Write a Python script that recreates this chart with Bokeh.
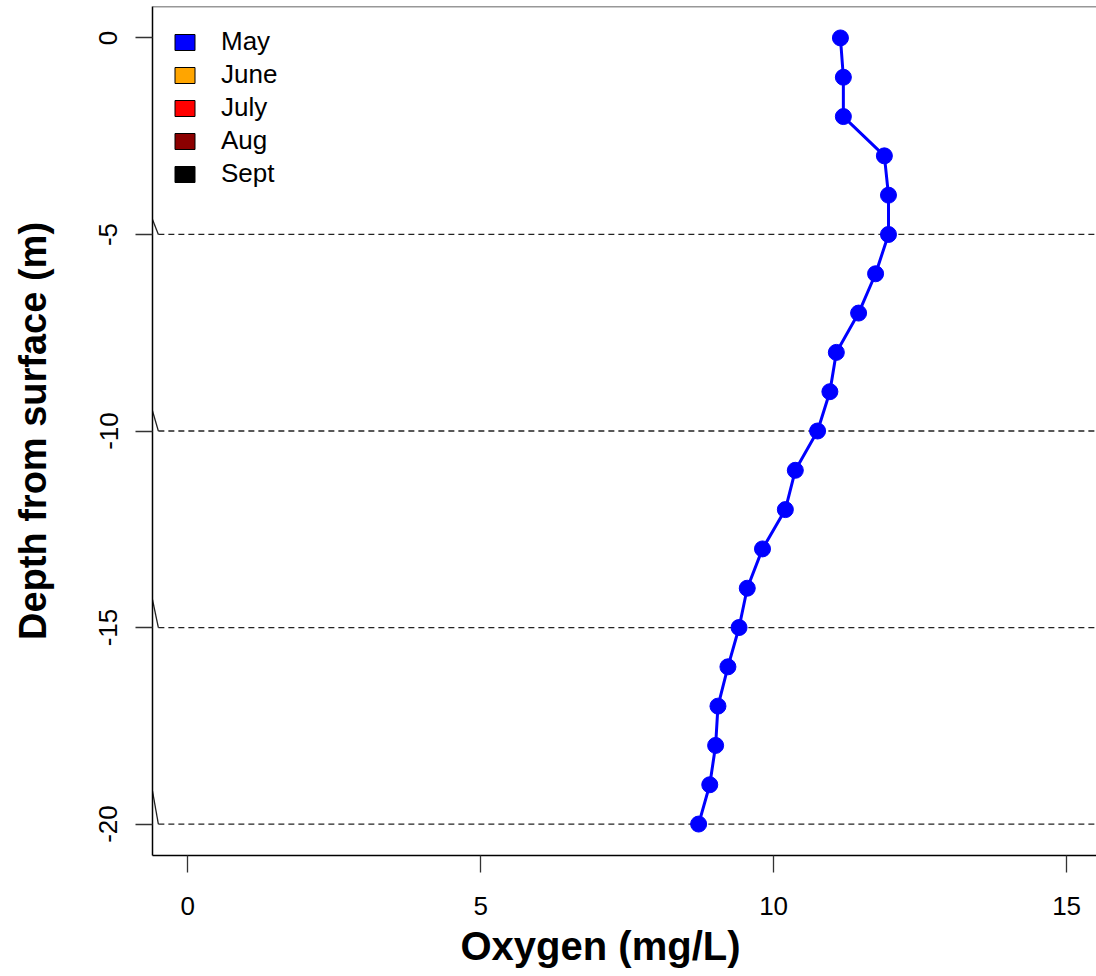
from bokeh.plotting import figure
from bokeh.models import (Range1d, FixedTicker, Span, Legend, LegendItem,
                          ColumnDataSource, Title)
from bokeh.embed import file_html
from bokeh.resources import INLINE

# Dissolved oxygen profile (May)
depth_m = [0, -1, -2, -3, -4, -5, -6, -7, -8, -9, -10,
           -11, -12, -13, -14, -15, -16, -17, -18, -19, -20]
oxygen_may = [11.14, 11.19, 11.19, 11.89, 11.96, 11.96, 11.74, 11.45, 11.07, 10.96, 10.75,
              10.37, 10.20, 9.81, 9.55, 9.41, 9.22, 9.05, 9.01, 8.91, 8.72]

months = ["May", "June", "July", "Aug", "Sept"]
month_colors = ["#0000FF", "#FFA500", "#FF0000", "#8B0000", "#000000"]

x_ticks = [0, 5, 10, 15]
y_ticks = [0, -5, -10, -15, -20]

# reference depths with dashed guides, and the short slanted lead-in of each guide
guide_depths = [-5, -10, -15, -20]
guide_lead = [0.38, 0.51, 0.71, 0.84]

FONT = "Liberation Sans"
X0, X1 = -0.6, 15.51
Y0, Y1 = -20.8, 0.8

p = figure(width=1096, height=976,
           x_range=Range1d(X0, X1), y_range=Range1d(Y0, Y1),
           output_backend="svg", toolbar_location=None,
           min_border_left=152, min_border_top=6, min_border_bottom=121,
           min_border_right=0)
p.outline_line_color = None
p.xgrid.visible = False
p.ygrid.visible = False
p.background_fill_color = "white"
p.border_fill_color = "white"

# top edge of the box
p.add_layout(Span(location=Y1, dimension="width", line_color="#333333", line_width=1.5))

# dashed depth guides
gx0 = [-0.5] * len(guide_depths)
gx1 = [16] * len(guide_depths)
p.segment(x0=gx0, y0=guide_depths, x1=gx1, y1=guide_depths,
          line_color="#222222", line_width=1.3, line_dash="6 4")
lx0 = [X0] * len(guide_depths)
ly0 = [d + l for d, l in zip(guide_depths, guide_lead)]
p.segment(x0=lx0, y0=ly0, x1=gx0, y1=guide_depths,
          line_color="#222222", line_width=1.3)

# May profile
src = ColumnDataSource(dict(ox=oxygen_may, depth=depth_m))
p.line("ox", "depth", source=src, line_color=month_colors[0], line_width=3)
p.scatter("ox", "depth", source=src, size=16, marker="circle",
          fill_color=month_colors[0], line_color=month_colors[0])

# legend swatches (no plotted points of their own)
nan = float("nan")
items = []
for m, c in zip(months, month_colors):
    r = p.rect(x=[nan], y=[nan], width=1, height=1, fill_color=c,
               line_color="black", line_width=1)
    items.append(LegendItem(label=m, renderers=[r]))
legend = Legend(items=items, location="top_left")
legend.border_line_color = None
legend.background_fill_alpha = 0
legend.margin = 20
legend.padding = 10
legend.glyph_width = 25
legend.glyph_height = 20
legend.label_standoff = 24
legend.spacing = 2
legend.label_text_font = FONT
legend.label_text_font_size = "26px"
legend.label_text_color = "black"
p.add_layout(legend)

# axes
p.xaxis.ticker = FixedTicker(ticks=x_ticks)
p.yaxis.ticker = FixedTicker(ticks=y_ticks)
p.xaxis.major_label_overrides = {t: str(t) for t in x_ticks}
p.yaxis.major_label_overrides = {t: str(t) for t in y_ticks}
for ax in (p.xaxis[0], p.yaxis[0]):
    ax.axis_line_color = "black"
    ax.axis_line_width = 1.5
    ax.major_tick_in = 0
    ax.major_tick_out = 17
    ax.major_tick_line_color = "#333333"
    ax.major_tick_line_width = 1.3
    ax.minor_tick_line_color = None
    ax.major_label_text_font = FONT
    ax.major_label_text_font_size = "26px"
    ax.major_label_text_color = "black"

p.yaxis.major_label_orientation = "vertical"
p.xaxis.major_label_standoff = 24
p.yaxis.major_label_standoff = 18

# axis titles
p.yaxis.axis_label = "Depth from surface (m)"
p.yaxis.axis_label_text_font = FONT
p.yaxis.axis_label_text_font_style = "bold"
p.yaxis.axis_label_text_font_size = "38px"
p.yaxis.axis_label_text_color = "black"
p.yaxis.axis_label_standoff = 43

p.add_layout(Title(text="Oxygen (mg/L)", align="left", offset=308,
                   text_font=FONT, text_font_style="bold", text_font_size="40px",
                   text_color="black", standoff=8), "below")

open("out.html", "w").write(file_html(p, INLINE))
